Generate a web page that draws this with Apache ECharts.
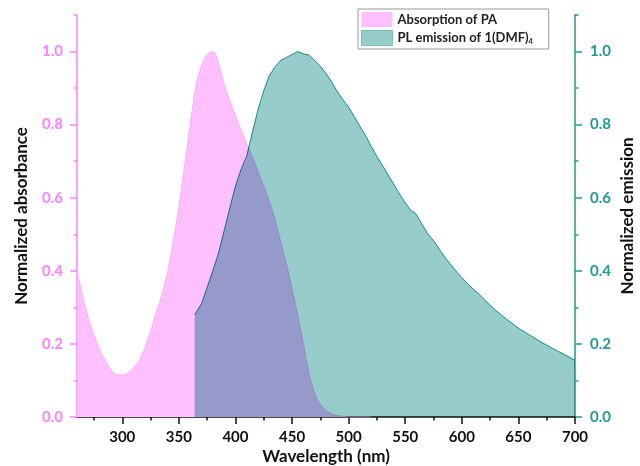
<!DOCTYPE html>
<html>
<head>
<meta charset="utf-8">
<script src="https://cdn.jsdelivr.net/npm/echarts@6/dist/echarts.min.js"></script>
<style>
  html, body { margin: 0; padding: 0; background: #fff; }
  #main { width: 640px; height: 466px; }
</style>
</head>
<body>
<div id="main"></div>
<script>
// absorption of PA (normalized)
var absX = [260, 265, 270, 275, 280, 285, 290, 295, 300, 305, 310, 315, 320, 325, 330, 335, 340, 345, 350, 355,
  360, 365, 370, 375, 380, 385, 390, 395, 400, 405, 410, 415, 420, 425, 430, 435, 440, 445, 450, 455,
  460, 465, 470, 475, 480, 485, 490, 495, 500, 510, 520];
var absY = [0.40, 0.33, 0.27, 0.225, 0.185, 0.155, 0.128, 0.116, 0.115, 0.12, 0.135, 0.155, 0.19, 0.235, 0.285, 0.335, 0.395, 0.48, 0.575, 0.685,
  0.80, 0.905, 0.962, 0.992, 1.0, 0.968, 0.91, 0.866, 0.825, 0.785, 0.748, 0.712, 0.672, 0.632, 0.59, 0.54, 0.48, 0.42, 0.35, 0.28,
  0.20, 0.12, 0.065, 0.035, 0.018, 0.009, 0.004, 0.002, 0.0, 0.0, 0.0];

// PL emission of 1(DMF)4 (normalized)
var emX = [364, 366, 370, 375, 380, 385, 390, 395, 400, 405, 410, 415, 420, 425, 430, 435, 440, 445, 450, 455,
  460, 465, 470, 475, 480, 485, 490, 495, 500, 505, 510, 515, 520, 525, 530, 535, 540, 545, 550, 555,
  558, 560, 565, 570, 575, 580, 585, 590, 595, 600, 605, 610, 615, 620, 625, 630, 635, 640, 645, 650,
  655, 660, 665, 670, 675, 680, 685, 690, 695, 700];
var emY = [0.28, 0.29, 0.31, 0.355, 0.40, 0.448, 0.51, 0.572, 0.632, 0.678, 0.715, 0.78, 0.842, 0.893, 0.935, 0.958, 0.976, 0.984, 0.992, 1.0,
  0.994, 0.99, 0.975, 0.96, 0.94, 0.917, 0.89, 0.868, 0.848, 0.822, 0.795, 0.77, 0.74, 0.713, 0.688, 0.662, 0.636, 0.61, 0.586, 0.565,
  0.56, 0.553, 0.526, 0.501, 0.483, 0.46, 0.437, 0.418, 0.399, 0.381, 0.366, 0.35, 0.337, 0.321, 0.306, 0.292, 0.279, 0.266, 0.255, 0.243,
  0.234, 0.224, 0.215, 0.205, 0.197, 0.188, 0.18, 0.172, 0.164, 0.155];

var xMajor = [300, 350, 400, 450, 500, 550, 600, 650, 700];
var xMinor = [275, 325, 375, 425, 475, 525, 575, 625, 675];
var yMajor = [0, 0.2, 0.4, 0.6, 0.8, 1.0];
var yMinor = [0.1, 0.3, 0.5, 0.7, 0.9, 1.1];

var absName = 'Absorption of PA';
var emName = 'PL emission of 1(DMF)4';

function pairs(xs, ys) {
  return xs.map(function (x, i) { return [x, ys[i]]; });
}

var PINK = '#ff80ff';
var PINK_FILL = '#ffc0ff';
var TEAL = '#1f9a95';
var TEAL_FILL = '#96cdca';
var FONT = 'Lato';

var chart = echarts.init(document.getElementById('main'), null, { renderer: 'canvas' });

function yAxisMain(pos, color, name, gap, margin) {
  return {
    type: 'value', position: pos, min: 0, max: 1.1, offset: 0,
    name: name, nameLocation: 'middle', nameRotate: 90, nameGap: gap, nameMoveOverlap: false,
    nameTextStyle: { color: '#111', fontFamily: FONT, fontWeight: 'bold', fontSize: 17 },
    axisLine: { show: true, lineStyle: { color: color, width: 1.5 } },
    axisTick: { show: true, length: 7, lineStyle: { color: color, width: 1.5 }, customValues: yMajor },
    axisLabel: { color: color, fontFamily: FONT, fontWeight: 'bold', fontSize: 15, margin: margin,
      customValues: yMajor, formatter: function (v) { return v.toFixed(1); } },
    splitLine: { show: false }
  };
}
function yAxisMinor(pos, color) {
  return {
    type: 'value', position: pos, min: 0, max: 1.1, offset: 0,
    axisLine: { show: false },
    axisTick: { show: true, length: 3.5, lineStyle: { color: color, width: 1.5 }, customValues: yMinor },
    axisLabel: { show: false },
    splitLine: { show: false }
  };
}

var option = {
  backgroundColor: '#ffffff',
  animation: false,
  grid: { left: 77, right: 65, top: 15, bottom: 49, outerBoundsMode: 'none', containLabel: false },
  legend: {
    orient: 'vertical', left: 358, top: 9,
    icon: 'rect', itemWidth: 31, itemHeight: 15, itemGap: 3,
    borderColor: '#999', borderWidth: 1, padding: [3, 16, 3, 3],
    textStyle: {
      color: '#222', fontFamily: FONT, fontWeight: 'bold', fontSize: 13,
      rich: { sub: { fontSize: 7, fontWeight: 'bold', color: '#222', fontFamily: FONT, padding: [7, 0, 0, 0] } }
    },
    formatter: function (n) { return n === emName ? 'PL emission of 1(DMF){sub|4}' : n; },
    data: [
      { name: absName, itemStyle: { color: PINK_FILL, borderWidth: 0 } },
      { name: emName, itemStyle: { color: TEAL_FILL, borderColor: '#7bbdb9', borderWidth: 1 } }
    ]
  },
  xAxis: [{
    type: 'value', position: 'bottom', min: 260, max: 700, offset: 0,
    name: 'Wavelength (nm)', nameLocation: 'middle', nameGap: 31, nameMoveOverlap: false,
    nameTextStyle: { color: '#111', fontFamily: FONT, fontWeight: 'bold', fontSize: 17 },
    axisLine: { show: true, lineStyle: { color: '#111', width: 1.5 } },
    axisTick: { show: true, length: 7, lineStyle: { color: '#111', width: 1.5 }, customValues: xMajor },
    axisLabel: { color: '#111', fontFamily: FONT, fontWeight: 'bold', fontSize: 15, margin: 13, customValues: xMajor },
    splitLine: { show: false }
  }, {
    type: 'value', position: 'bottom', min: 260, max: 700, offset: 0,
    axisLine: { show: false },
    axisTick: { show: true, length: 3.5, lineStyle: { color: '#111', width: 1.5 }, customValues: xMinor },
    axisLabel: { show: false },
    splitLine: { show: false }
  }],
  yAxis: [
    yAxisMain('left', PINK, 'Normalized absorbance', 47, 14),
    yAxisMain('right', TEAL, 'Normalized emission', 44, 15),
    yAxisMinor('left', PINK),
    yAxisMinor('right', TEAL)
  ],
  series: [{
    name: absName, type: 'line', xAxisIndex: 0, yAxisIndex: 0,
    data: pairs(absX, absY), smooth: 0.3, showSymbol: false,
    lineStyle: { color: '#ffaaff', width: 1 },
    itemStyle: { color: PINK_FILL },
    areaStyle: { color: PINK_FILL, opacity: 1 },
    z: 2
  }, {
    name: emName, type: 'line', xAxisIndex: 0, yAxisIndex: 1,
    data: pairs(emX, emY), showSymbol: false,
    lineStyle: { color: TEAL, width: 1 },
    itemStyle: { color: TEAL_FILL },
    areaStyle: { color: TEAL_FILL, opacity: 1 },
    blendMode: 'multiply',
    z: 3
  }]
};

chart.setOption(option);
</script>
</body>
</html>
